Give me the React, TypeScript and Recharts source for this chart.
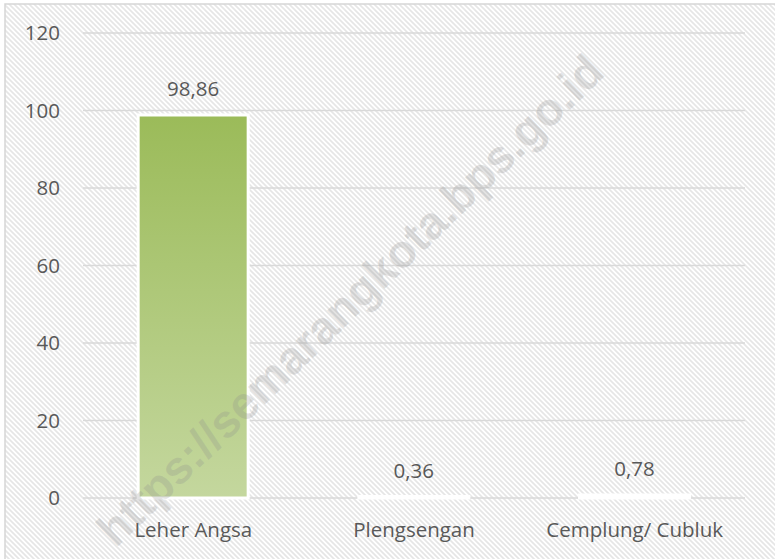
import React from "react";
import { BarChart, Bar, XAxis, YAxis, CartesianGrid, LabelList } from "recharts";

const categories = ["Leher Angsa", "Plengsengan", "Cemplung/ Cubluk"];
const values = [98.86, 0.36, 0.78];
const yTicks = [0, 20, 40, 60, 80, 100, 120];

const data = categories.map((name, i) => ({ name, value: values[i] }));

const FONT = "'Open Sans', sans-serif";
const TEXT = "#595959";
const FS = 20.5;

export default function App() {
  return (
    <div
      style={{
        position: "absolute",
        left: 0,
        top: 0,
        width: 775,
        height: 559,
        overflow: "hidden",
        background: "#ffffff",
      }}
    >
      <svg
        width={775}
        height={559}
        style={{ position: "absolute", left: 0, top: 0 }}
      >
        <defs>
          <pattern
            id="hatch"
            patternUnits="userSpaceOnUse"
            width={5}
            height={5}
          >
            <line x1={-1} y1={-1} x2={6} y2={6} stroke="#e6e6e6" strokeWidth={1.7} />
            <line x1={-1} y1={4} x2={1} y2={6} stroke="#e6e6e6" strokeWidth={1.7} />
            <line x1={4} y1={-1} x2={6} y2={1} stroke="#e6e6e6" strokeWidth={1.7} />
          </pattern>
        </defs>
        <rect x={5} y={4} width={800} height={600} fill="url(#hatch)" stroke="#d6d6d6" strokeWidth={1.5} />
      </svg>
      <div style={{ position: "absolute", left: 0, top: 0 }}>
        <BarChart
          width={775}
          height={559}
          data={data}
          margin={{ top: 33, right: 30, bottom: 0, left: 0 }}
          barCategoryGap="25%"
        >
          <defs>
            <linearGradient id="barGrad" x1="0" y1="0" x2="0" y2="1">
              <stop offset="0%" stopColor="#9BBB59" />
              <stop offset="100%" stopColor="#C4D79E" />
            </linearGradient>
          </defs>
          <CartesianGrid vertical={false} stroke="#d9d9d9" strokeWidth={1.5} />
          <XAxis
            dataKey="name"
            axisLine={false}
            tickLine={false}
            tickMargin={18}
            height={61}
            tick={{ fill: TEXT, fontSize: FS, fontFamily: FONT }}
          />
          <YAxis
            domain={[0, 120]}
            ticks={yTicks}
            width={83}
            axisLine={false}
            tickLine={false}
            tickMargin={17}
            tick={{ fill: TEXT, fontSize: FS, fontFamily: FONT }}
          />
          <Bar
            dataKey="value"
            fill="url(#barGrad)"
            stroke="#ffffff"
            strokeWidth={3}
            isAnimationActive={false}
          >
            <LabelList
              dataKey="value"
              position="top"
              offset={19}
              formatter={(v: number) => v.toFixed(2).replace(".", ",")}
              style={{ fill: TEXT, fontSize: FS, fontFamily: FONT }}
            />
          </Bar>
        </BarChart>
      </div>
      <div
        style={{
          position: "absolute",
          left: 350,
          top: 300,
          transform: "translate(-50%, -50%) rotate(-44deg)",
          whiteSpace: "nowrap",
          fontFamily: "'Liberation Sans', Arial, sans-serif",
          fontWeight: 700,
          fontSize: 46,
          color: "rgba(140,140,140,0.25)",
          pointerEvents: "none",
        }}
      >
        https://semarangkota.bps.go.id
      </div>
    </div>
  );
}
